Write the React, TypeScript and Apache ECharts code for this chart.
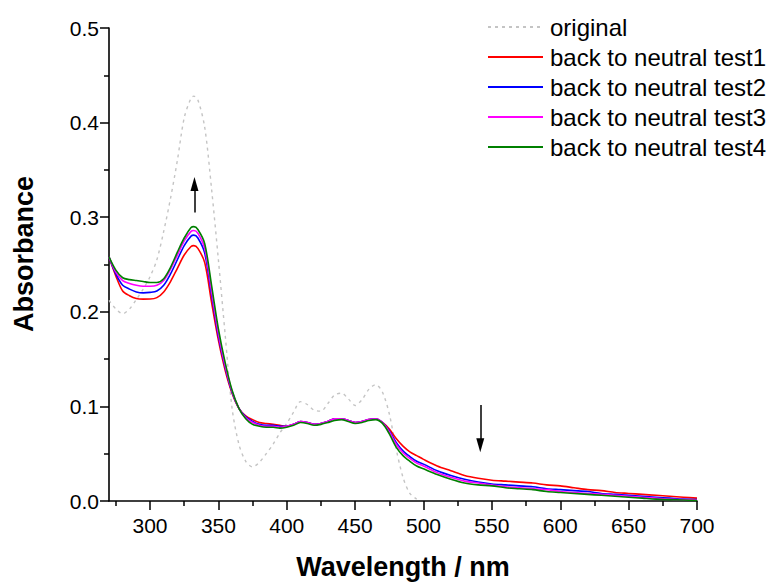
import React, { useEffect, useRef } from "react";
import * as echarts from "echarts";

const WAVELENGTH = [
  270, 275, 280, 285, 290, 295, 300, 305, 310, 315, 320, 325, 330, 332, 335, 340, 345, 350, 355, 360,
  365, 370, 375, 380, 385, 390, 395, 400, 405, 410, 415, 420, 425, 430, 435, 440, 445, 450, 455, 460,
  465, 470, 475, 480, 485, 490, 495, 500, 510, 520, 530, 540, 550, 560, 570, 580, 590, 600, 610, 620,
  630, 640, 650, 660, 670, 680, 690, 700,
];

const ORIGINAL = [
  0.212, 0.203, 0.198, 0.203, 0.213, 0.224, 0.237, 0.255, 0.285, 0.32, 0.36, 0.405, 0.426, 0.428, 0.424, 0.395, 0.33, 0.255, 0.175, 0.098,
  0.06, 0.042, 0.036, 0.041, 0.05, 0.06, 0.072, 0.082, 0.094, 0.105, 0.102, 0.096, 0.095, 0.103, 0.112, 0.114, 0.108, 0.101, 0.107, 0.118,
  0.123, 0.115, 0.092, 0.055, 0.025, 0.008, 0.002,
];

const TEST1 = [
  0.258, 0.238, 0.222, 0.217, 0.214, 0.2134, 0.2135, 0.215, 0.221, 0.232, 0.246, 0.26, 0.269, 0.27, 0.267, 0.252, 0.21, 0.17, 0.138, 0.114,
  0.098, 0.09, 0.086, 0.083, 0.082, 0.081, 0.08, 0.079, 0.081, 0.084, 0.083, 0.081, 0.082, 0.084, 0.087, 0.087, 0.085, 0.083, 0.084, 0.086,
  0.087, 0.083, 0.076, 0.066, 0.058, 0.052, 0.048, 0.044, 0.037, 0.032, 0.027, 0.024, 0.022, 0.021, 0.02, 0.019, 0.017, 0.016, 0.014, 0.012,
  0.011, 0.009, 0.008, 0.007, 0.006, 0.005, 0.004, 0.003,
];

const TEST2 = [
  0.258, 0.24, 0.228, 0.224, 0.221, 0.22, 0.2205, 0.222, 0.228, 0.24, 0.255, 0.27, 0.28, 0.281, 0.278, 0.262, 0.218, 0.174, 0.141, 0.115,
  0.098, 0.089, 0.084, 0.081, 0.08, 0.08, 0.079, 0.079, 0.081, 0.084, 0.083, 0.081, 0.082, 0.084, 0.087, 0.087, 0.085, 0.083, 0.084, 0.086,
  0.087, 0.083, 0.074, 0.062, 0.053, 0.047, 0.042, 0.039, 0.032, 0.027, 0.023, 0.02, 0.018, 0.017, 0.016, 0.015, 0.013, 0.012, 0.011, 0.01,
  0.008, 0.007, 0.006, 0.005, 0.004, 0.003, 0.002, 0.0015,
];

const TEST3 = [
  0.258, 0.242, 0.233, 0.23, 0.228, 0.227, 0.227, 0.228, 0.233, 0.245, 0.26, 0.275, 0.285, 0.286, 0.283, 0.267, 0.222, 0.177, 0.143, 0.116,
  0.098, 0.088, 0.083, 0.08, 0.079, 0.079, 0.078, 0.079, 0.081, 0.084, 0.083, 0.081, 0.082, 0.084, 0.087, 0.087, 0.085, 0.083, 0.084, 0.086,
  0.087, 0.083, 0.073, 0.06, 0.051, 0.045, 0.04, 0.037, 0.03, 0.025, 0.021, 0.019, 0.017, 0.015, 0.014, 0.013, 0.012, 0.01, 0.009, 0.008,
  0.007, 0.006, 0.005, 0.004, 0.003, 0.002, 0.0015, 0.001,
];

const TEST4 = [
  0.258, 0.244, 0.236, 0.234, 0.233, 0.232, 0.231, 0.231, 0.235, 0.247, 0.263, 0.278, 0.289, 0.29, 0.287, 0.272, 0.228, 0.182, 0.146, 0.117,
  0.098, 0.087, 0.081, 0.079, 0.078, 0.078, 0.077, 0.078, 0.08, 0.083, 0.082, 0.08, 0.081, 0.083, 0.085, 0.086, 0.084, 0.082, 0.083, 0.085,
  0.086, 0.082, 0.071, 0.057, 0.048, 0.042, 0.037, 0.034, 0.028, 0.023, 0.019, 0.017, 0.016, 0.014, 0.013, 0.012, 0.01, 0.009, 0.008, 0.007,
  0.006, 0.005, 0.004, 0.003, 0.002, 0.0015, 0.001, 0.0005,
];

const SERIES_NAMES = [
  "original",
  "back to neutral test1",
  "back to neutral test2",
  "back to neutral test3",
  "back to neutral test4",
];
const SERIES_VALUES = [ORIGINAL, TEST1, TEST2, TEST3, TEST4];
const SERIES_COLORS = ["#c4c4c4", "#ff0000", "#0000ff", "#ff00ff", "#008000"];

const X_MAJOR_TICKS = [300, 350, 400, 450, 500, 550, 600, 650, 700];
const X_MINOR_TICKS = [275, 325, 375, 425, 475, 525, 575, 625, 675];

// arrows: [x, yStart, yEnd] (yEnd is the centre of the arrow head)
const ARROW_UP = [332.5, 0.305, 0.335];
const ARROW_DOWN = [541.5, 0.1015, 0.059];

const FONT = 'Arial, "Liberation Sans", Helvetica, sans-serif';

export default function App() {
  const ref = useRef<HTMLDivElement>(null);

  useEffect(() => {
    if (!ref.current) return;
    const chart = echarts.init(ref.current, undefined, { renderer: "svg" });

    const series: any[] = SERIES_NAMES.map((name, i) => ({
      name,
      type: "line",
      xAxisIndex: 0,
      yAxisIndex: 0,
      data: SERIES_VALUES[i].map((v, j) => [WAVELENGTH[j], v]),
      showSymbol: false,
      symbol: "none",
      smooth: 0.3,
      lineStyle: {
        color: SERIES_COLORS[i],
        width: i === 0 ? 1.4 : 1.6,
        type: i === 0 ? [3, 4] : "solid",
      },
      itemStyle: { color: SERIES_COLORS[i] },
      z: 2 + i,
    }));

    series.push({
      name: "arrows",
      type: "line",
      data: [],
      silent: true,
      markLine: {
        silent: true,
        animation: false,
        symbol: ["none", "triangle"],
        symbolSize: [8, 14],
        label: { show: false },
        lineStyle: { color: "#000", width: 1.5, type: "solid" },
        itemStyle: { color: "#000" },
        data: [
          [{ coord: [ARROW_UP[0], ARROW_UP[1]] }, { coord: [ARROW_UP[0], ARROW_UP[2]] }],
          [{ coord: [ARROW_DOWN[0], ARROW_DOWN[1]] }, { coord: [ARROW_DOWN[0], ARROW_DOWN[2]] }],
        ],
      },
    });

    chart.setOption({
      animation: false,
      backgroundColor: "#ffffff",
      textStyle: { fontFamily: FONT },
      grid: { left: 109, right: 77, top: 28, bottom: 84 },
      legend: {
        data: SERIES_NAMES,
        orient: "vertical",
        left: 487,
        top: 15,
        padding: 0,
        itemWidth: 55,
        itemHeight: 10,
        itemGap: 6,
        itemStyle: { opacity: 0 },
        textStyle: { fontFamily: FONT, fontSize: 24, color: "#000", padding: [0, 0, 0, 2] },
        selectedMode: false,
      },
      graphic: [
        {
          type: "text",
          x: 24,
          y: 254,
          rotation: Math.PI / 2,
          style: {
            text: "Absorbance",
            fontFamily: FONT,
            fontSize: 27,
            fontWeight: "bold",
            fill: "#000",
            align: "center",
            verticalAlign: "middle",
          },
        },
      ],
      xAxis: [
        {
          type: "value",
          min: 270,
          max: 700,
          name: "Wavelength / nm",
          nameLocation: "middle",
          nameGap: 52,
          nameTextStyle: { fontFamily: FONT, fontSize: 27, fontWeight: "bold", color: "#000" },
          axisLine: { show: true, onZero: false, lineStyle: { color: "#000", width: 1.6 } },
          axisTick: {
            show: true,
            inside: false,
            length: 9,
            customValues: X_MAJOR_TICKS,
            lineStyle: { color: "#000", width: 1.5 },
          },
          axisLabel: {
            customValues: X_MAJOR_TICKS,
            margin: 14,
            fontFamily: FONT,
            fontSize: 21,
            color: "#000",
          },
          splitLine: { show: false },
        },
        {
          type: "value",
          min: 270,
          max: 700,
          position: "bottom",
          axisLine: { show: false, onZero: false },
          axisTick: {
            show: true,
            inside: false,
            length: 5,
            customValues: X_MINOR_TICKS,
            lineStyle: { color: "#000", width: 1.5 },
          },
          axisLabel: { show: false },
          splitLine: { show: false },
        },
      ],
      yAxis: {
        type: "value",
        min: 0,
        max: 0.5,
        interval: 0.1,
        axisLine: { show: true, lineStyle: { color: "#000", width: 1.6 } },
        axisTick: { show: true, inside: false, length: 9, lineStyle: { color: "#000", width: 1.5 } },
        minorTick: { show: true, splitNumber: 2, length: 5, lineStyle: { color: "#000", width: 1.5 } },
        axisLabel: {
          margin: 10,
          fontFamily: FONT,
          fontSize: 21,
          color: "#000",
          formatter: (v: number) => v.toFixed(1),
        },
        splitLine: { show: false },
        minorSplitLine: { show: false },
      },
      series,
    });

    return () => chart.dispose();
  }, []);

  return (
    <div
      ref={ref}
      style={{ position: "absolute", left: 0, top: 0, width: 774, height: 585 }}
    />
  );
}
